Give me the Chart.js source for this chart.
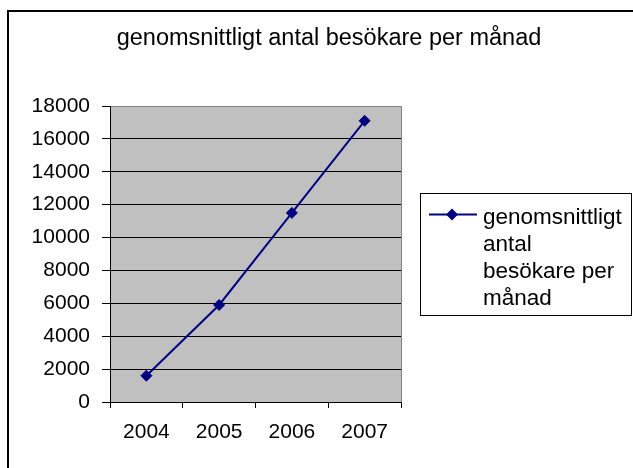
<!DOCTYPE html>
<html><head><meta charset="utf-8">
<script src="https://cdn.jsdelivr.net/npm/chart.js@4.4.0/dist/chart.umd.min.js"></script>
<style>html,body{margin:0;padding:0;background:#fff;overflow:hidden}#wrap{position:relative;width:633px;height:468px}</style>
</head><body><div id="wrap"><canvas id="c" width="633" height="468"></canvas></div>
<script>
const chartTitle = 'genomsnittligt antal besökare per månad';
const categories = ['2004', '2005', '2006', '2007'];
const visitors = [1600, 5900, 11500, 17100];
const seriesName = 'genomsnittligt antal besökare per månad';
const legendLines = ['genomsnittligt', 'antal', 'besökare per', 'månad'];
const yTicks = [0, 2000, 4000, 6000, 8000, 10000, 12000, 14000, 16000, 18000];

const FONT = '"Liberation Sans", Arial, Helvetica, sans-serif';
const LINE_COLOR = '#000080';

const framePlugin = {
  id: 'frame',
  beforeDraw(chart) {
    const ctx = chart.ctx, a = chart.chartArea;
    ctx.save();
    ctx.fillStyle = '#fff';
    ctx.fillRect(0, 0, chart.width, chart.height);
    ctx.strokeStyle = '#000';
    ctx.lineWidth = 2;
    ctx.strokeRect(8, 11, 1000, 1000);
    ctx.fillStyle = '#C0C0C0';
    ctx.fillRect(a.left, a.top, a.right - a.left, a.bottom - a.top);
    ctx.restore();
  },
  afterDraw(chart) {
    const ctx = chart.ctx, a = chart.chartArea;
    ctx.save();
    ctx.strokeStyle = '#808080';
    ctx.lineWidth = 1;
    ctx.beginPath();
    ctx.moveTo(a.left + 1, a.top + 0.5);
    ctx.lineTo(a.right + 0.5, a.top + 0.5);
    ctx.lineTo(a.right + 0.5, a.bottom);
    ctx.stroke();

    // legend
    const ds = chart.data.datasets[0];
    const bx = 420, by = 193, bw = 211, bh = 122;
    ctx.strokeStyle = '#000';
    ctx.lineWidth = 1;
    ctx.strokeRect(bx + 0.5, by + 0.5, bw, bh);
    const ly = 214.5;
    ctx.strokeStyle = ds.borderColor;
    ctx.lineWidth = 2;
    ctx.beginPath();
    ctx.moveTo(429, ly);
    ctx.lineTo(477, ly);
    ctx.stroke();
    const mx = 452, r = 6;
    ctx.fillStyle = ds.pointBackgroundColor;
    ctx.beginPath();
    ctx.moveTo(mx - r, ly);
    ctx.lineTo(mx, ly - r);
    ctx.lineTo(mx + r, ly);
    ctx.lineTo(mx, ly + r);
    ctx.closePath();
    ctx.fill();
    ctx.fillStyle = '#000';
    ctx.font = '22.5px ' + FONT;
    ctx.textAlign = 'left';
    ctx.textBaseline = 'alphabetic';
    legendLines.forEach((t, i) => ctx.fillText(t, 483, 224 + i * 27));
    ctx.restore();
  }
};

new Chart(document.getElementById('c'), {
  type: 'line',
  data: {
    labels: categories,
    datasets: [{
      label: seriesName,
      data: visitors,
      borderColor: LINE_COLOR,
      backgroundColor: LINE_COLOR,
      pointBackgroundColor: LINE_COLOR,
      pointBorderColor: LINE_COLOR,
      borderWidth: 2,
      pointStyle: 'rectRot',
      pointRadius: 5.5,
      pointBorderWidth: 1,
      tension: 0,
      fill: false
    }]
  },
  options: {
    responsive: false,
    animation: false,
    devicePixelRatio: 1,
    layout: { padding: { left: 25, right: 0, top: 0, bottom: 0 } },
    plugins: {
      legend: { display: false },
      tooltip: { enabled: false },
      title: {
        display: true,
        text: chartTitle,
        color: '#000',
        font: { family: FONT, size: 23.5, weight: 'normal' },
        padding: { top: 24, bottom: 53.8 }
      }
    },
    scales: {
      x: {
        type: 'category',
        offset: true,
        grid: { display: true, drawOnChartArea: false, drawTicks: true, tickLength: 6, color: '#000', offset: true },
        border: { display: true, color: '#000', width: 1 },
        ticks: { color: '#000', font: { family: FONT, size: 21 }, padding: 12, maxRotation: 0 },
        afterFit(s) { s.height = 66; }
      },
      y: {
        min: yTicks[0],
        max: yTicks[yTicks.length - 1],
        ticks: {
          stepSize: yTicks[1] - yTicks[0],
          color: '#000',
          font: { family: FONT, size: 21 },
          padding: 12,
          callback: (v) => String(v)
        },
        grid: { color: '#000', tickLength: 8, drawTicks: true },
        border: { display: true, color: '#000', width: 1 },
        afterFit(s) { s.width = 85; }
      },
      yRight: {
        position: 'right',
        display: true,
        grid: { display: false },
        border: { display: false },
        ticks: { display: false },
        afterFit(s) { s.width = 232; }
      }
    }
  },
  plugins: [framePlugin]
});
</script>
</body></html>
